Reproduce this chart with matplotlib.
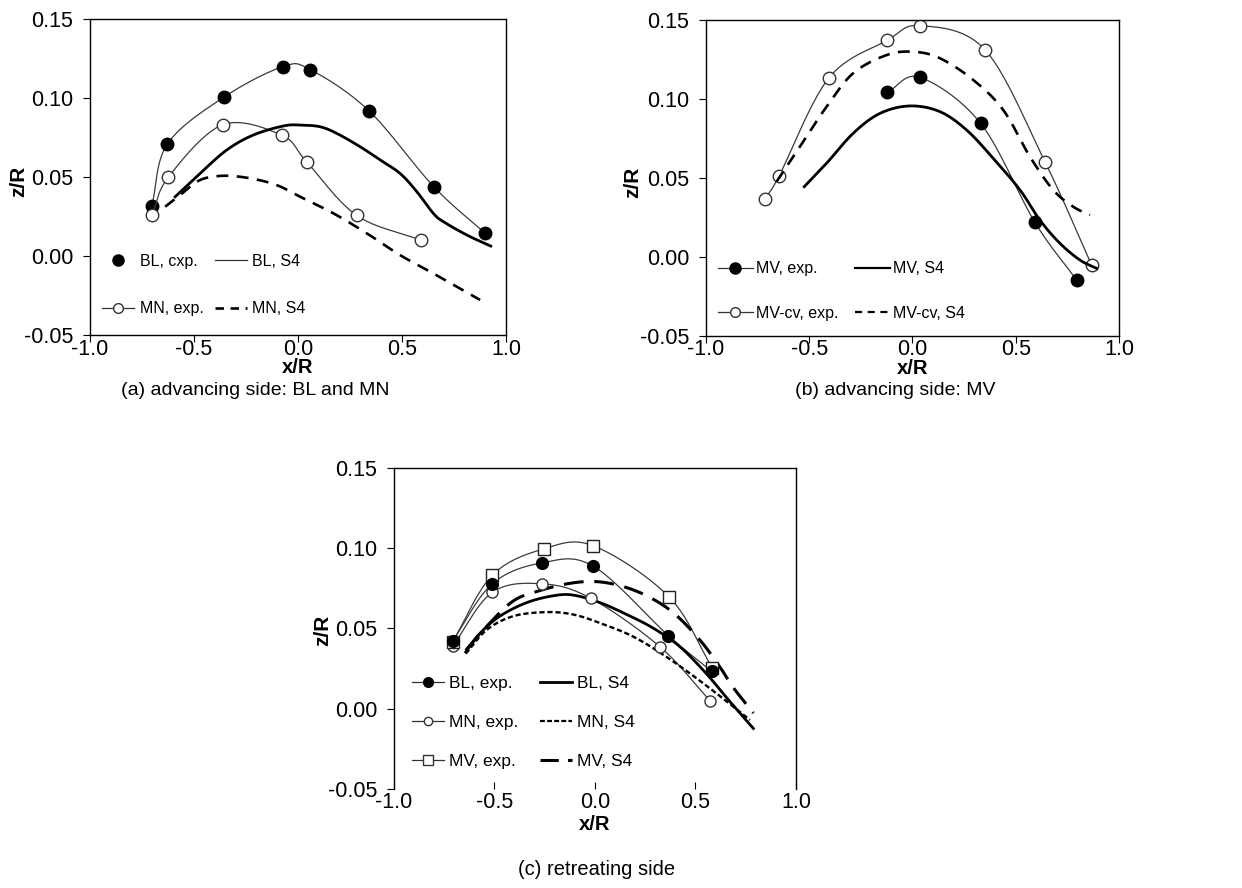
import numpy as np
import matplotlib
matplotlib.use("Agg")
import matplotlib.pyplot as plt
from matplotlib.lines import Line2D

plt.rcParams['font.family'] = ['Liberation Sans', 'DejaVu Sans']
plt.rcParams['axes.unicode_minus'] = False

# ---------------- data: panel (a) ----------------
a_bl_exp_x = [-0.703, -0.628, -0.356, -0.074, 0.058, 0.340, 0.652, 0.897]
a_bl_exp_y = [0.0318, 0.0709, 0.1006, 0.1198, 0.1180, 0.0920, 0.0439, 0.0146]
a_mn_exp_x = [-0.703, -0.623, -0.362, -0.078, 0.042, 0.282, 0.590]
a_mn_exp_y = [0.0257, 0.0500, 0.0831, 0.0764, 0.0595, 0.0257, 0.0101]
a_bl_s4_x = [-0.591, -0.471, -0.343, -0.215, -0.071, 0.010, 0.106, 0.186, 0.298,
             0.394, 0.490, 0.571, 0.650, 0.699, 0.811, 0.926]
a_bl_s4_y = [0.0375, 0.0523, 0.0671, 0.0766, 0.0823, 0.0829, 0.0818, 0.0776, 0.0692,
             0.0608, 0.0523, 0.0407, 0.0270, 0.0217, 0.0133, 0.0063]
a_mn_s4_x = [-0.639, -0.567, -0.471, -0.359, -0.231, -0.103, 0.010, 0.170, 0.330,
             0.490, 0.650, 0.875]
a_mn_s4_y = [0.0312, 0.0386, 0.0481, 0.0508, 0.0492, 0.0449, 0.0375, 0.0270, 0.0144,
             0.0006, -0.0110, -0.0278]

# ---------------- data: panel (b) ----------------
b_mv_exp_x = [-0.122, 0.036, 0.330, 0.593, 0.795]
b_mv_exp_y = [0.1042, 0.1137, 0.0846, 0.0220, -0.0146]
b_mvcv_exp_x = [-0.714, -0.645, -0.406, -0.122, 0.036, 0.351, 0.643, 0.868]
b_mvcv_exp_y = [0.0367, 0.0515, 0.1131, 0.1371, 0.1464, 0.1312, 0.0599, -0.0051]
b_mv_s4_x = [-0.524, -0.416, -0.287, -0.157, -0.012, 0.133, 0.262, 0.391, 0.521,
             0.617, 0.714, 0.811, 0.892]
b_mv_s4_y = [0.0445, 0.0593, 0.0783, 0.0909, 0.0956, 0.0920, 0.0804, 0.0625, 0.0424,
             0.0234, 0.0087, -0.0019, -0.0072]
b_mvcv_s4_x = [-0.658, -0.545, -0.416, -0.287, -0.125, 0.004, 0.133, 0.295, 0.440,
               0.569, 0.682, 0.779, 0.860]
b_mvcv_s4_y = [0.0477, 0.0698, 0.0951, 0.1163, 0.1278, 0.1299, 0.1258, 0.1120, 0.0930,
               0.0635, 0.0424, 0.0318, 0.0266]

# ---------------- data: panel (c) ----------------
c_bl_exp_x = [-0.708, -0.511, -0.262, -0.008, 0.365, 0.580]
c_bl_exp_y = [0.0424, 0.0778, 0.0909, 0.0888, 0.0456, 0.0233]
c_mn_exp_x = [-0.708, -0.511, -0.262, -0.021, 0.323, 0.572]
c_mn_exp_y = [0.0390, 0.0725, 0.0778, 0.0688, 0.0386, 0.0051]
c_mv_exp_x = [-0.708, -0.511, -0.254, -0.008, 0.368, 0.584]
c_mv_exp_y = [0.0417, 0.0831, 0.0996, 0.1015, 0.0697, 0.0254]
c_bl_s4_x = [-0.643, -0.572, -0.473, -0.340, -0.207, -0.108, 0.025, 0.158, 0.290,
             0.423, 0.556, 0.655, 0.788]
c_bl_s4_y = [0.0354, 0.0470, 0.0577, 0.0661, 0.0704, 0.0708, 0.0661, 0.0587, 0.0502,
             0.0386, 0.0216, 0.0068, -0.0123]
c_mn_s4_x = [-0.643, -0.539, -0.406, -0.240, -0.108, 0.025, 0.191, 0.357, 0.522,
             0.655, 0.771]
c_mn_s4_y = [0.0343, 0.0491, 0.0577, 0.0602, 0.0587, 0.0534, 0.0449, 0.0322, 0.0174,
             0.0046, -0.0070]
c_mv_s4_x = [-0.643, -0.539, -0.406, -0.274, -0.141, -0.008, 0.124, 0.257, 0.390,
             0.522, 0.622, 0.688, 0.788]
c_mv_s4_y = [0.0364, 0.0513, 0.0672, 0.0736, 0.0778, 0.0793, 0.0767, 0.0704, 0.0598,
             0.0428, 0.0259, 0.0132, -0.0027]

x_ticks = [-1.0, -0.5, 0.0, 0.5, 1.0]
y_ticks = [-0.05, 0.00, 0.05, 0.10, 0.15]
captions = ["(a) advancing side: BL and MN", "(b) advancing side: MV", "(c) retreating side"]


def smooth(x, y, n=24):
    """Catmull-Rom smoothing, like a spreadsheet 'smoothed line'."""
    pts = np.column_stack([x, y]).astype(float)
    if len(pts) < 3:
        return pts[:, 0], pts[:, 1]
    p = np.vstack([2 * pts[0] - pts[1], pts, 2 * pts[-1] - pts[-2]])
    t = np.linspace(0, 1, n, endpoint=False)[:, None]
    segs = []
    for i in range(1, len(p) - 2):
        p0, p1, p2, p3 = p[i - 1], p[i], p[i + 1], p[i + 2]
        seg = 0.5 * (2 * p1 + (-p0 + p2) * t + (2 * p0 - 5 * p1 + 4 * p2 - p3) * t ** 2
                     + (-p0 + 3 * p1 - 3 * p2 + p3) * t ** 3)
        segs.append(seg)
    segs.append(pts[-1:])
    s = np.vstack(segs)
    return s[:, 0], s[:, 1]


TICK_FS = 15.5
LEG_FS = 11.5
THIN = dict(color='#3a3a3a', lw=0.9)
THICK = dict(color='black', lw=2.0)


def style_axes(ax, xlab_y, ylab_x, ylab_y, no_bottom=False):
    ax.set_xlim(-1.0, 1.0)
    ax.set_ylim(-0.05, 0.15)
    ax.set_xticks(x_ticks)
    ax.set_yticks(y_ticks)
    ax.set_xticklabels(['%.1f' % v for v in x_ticks])
    ax.set_yticklabels(['%.2f' % v for v in y_ticks])
    for sp in ax.spines.values():
        sp.set_linewidth(1.0)
        sp.set_color('black')
    ax.tick_params(axis='y', direction='out', length=5, width=0.8, pad=7, labelsize=TICK_FS)
    if no_bottom:
        ax.spines['bottom'].set_visible(False)
        ax.tick_params(axis='x', direction='in', length=5, width=0.8, pad=2, labelsize=TICK_FS)
    else:
        ax.tick_params(axis='x', direction='out', length=5, width=0.8, pad=-2.5, labelsize=TICK_FS)
    ax.set_xlabel('x/R', fontsize=14.5, fontweight='bold', va='center')
    ax.set_ylabel('z/R', fontsize=15, fontweight='bold', va='center')
    ax.xaxis.set_label_coords(0.5, xlab_y)
    ax.yaxis.set_label_coords(ylab_x, ylab_y)


fig = plt.figure(figsize=(12.42, 8.88), dpi=100)

# ---------------- panel (a) ----------------
ax1 = fig.add_axes([0.0725, 0.6227, 0.3350, 0.3559])
ax1.plot(*smooth(a_bl_exp_x, a_bl_exp_y), **THIN)
ax1.plot(a_bl_exp_x, a_bl_exp_y, 'o', color='black', ms=9, ls='none')
ax1.plot(*smooth(a_mn_exp_x, a_mn_exp_y), **THIN)
ax1.plot(a_mn_exp_x, a_mn_exp_y, 'o', mfc='white', mec='#333333', mew=1.0, ms=9, ls='none')
ax1.plot(*smooth(a_bl_s4_x, a_bl_s4_y), **THICK)
ax1.plot(*smooth(a_mn_s4_x, a_mn_s4_y), color='black', lw=1.9, ls=(0, (4.5, 3.2)))
style_axes(ax1, -0.102, -0.171, 0.485)
h1 = [Line2D([], [], ls='none', marker='o', color='black', ms=8),
      Line2D([], [], color='#333333', lw=0.9, marker='o', mfc='white', mec='#333333', ms=7),
      Line2D([], [], color='#333333', lw=0.9),
      Line2D([], [], color='black', lw=1.9, ls=(0, (3.2, 2.5)))]
l1 = ['BL, cxp.', 'MN, exp.', 'BL, S4', 'MN, S4']
ax1.legend(h1, l1, ncol=2, loc='upper left', bbox_to_anchor=(0.029, 0.258), frameon=False,
           fontsize=LEG_FS, handlelength=2.0, handletextpad=0.35, columnspacing=0.7,
           labelspacing=2.06, borderpad=0, borderaxespad=0)

# ---------------- panel (b) ----------------
ax2 = fig.add_axes([0.5684, 0.6216, 0.3325, 0.3559])
ax2.plot(*smooth(b_mv_exp_x, b_mv_exp_y), **THIN)
ax2.plot(b_mv_exp_x, b_mv_exp_y, 'o', color='black', ms=9, ls='none')
ax2.plot(*smooth(b_mvcv_exp_x, b_mvcv_exp_y), **THIN)
ax2.plot(b_mvcv_exp_x, b_mvcv_exp_y, 'o', mfc='white', mec='#333333', mew=1.0, ms=9, ls='none')
ax2.plot(*smooth(b_mv_s4_x, b_mv_s4_y), **THICK)
ax2.plot(*smooth(b_mvcv_s4_x, b_mvcv_s4_y), color='black', lw=1.9, ls=(0, (4.5, 3.2)))
style_axes(ax2, -0.102, -0.177, 0.485)
h2 = [Line2D([], [], color='#333333', lw=0.9, marker='o', mfc='black', mec='black', ms=8),
      Line2D([], [], color='#333333', lw=0.9, marker='o', mfc='white', mec='#333333', ms=7),
      Line2D([], [], color='black', lw=1.6),
      Line2D([], [], color='black', lw=1.6, ls=(0, (3.2, 2.5)))]
l2 = ['MV, exp.', 'MV-cv, exp.', 'MV, S4', 'MV-cv, S4']
ax2.legend(h2, l2, ncol=2, loc='upper left', bbox_to_anchor=(0.029, 0.237), frameon=False,
           fontsize=LEG_FS, handlelength=2.2, handletextpad=0.2, columnspacing=1.0,
           labelspacing=1.85, borderpad=0, borderaxespad=0)

# ---------------- panel (c) ----------------
ax3 = fig.add_axes([0.3172, 0.1115, 0.3237, 0.3615])
ax3.plot(*smooth(c_mv_exp_x, c_mv_exp_y), **THIN)
ax3.plot(*smooth(c_bl_exp_x, c_bl_exp_y), **THIN)
ax3.plot(*smooth(c_mn_exp_x, c_mn_exp_y), **THIN)
ax3.plot(*smooth(c_bl_s4_x, c_bl_s4_y), **THICK)
ax3.plot(*smooth(c_mn_s4_x, c_mn_s4_y), color='black', lw=1.7, ls=(0, (2.2, 1.2)))
ax3.plot(*smooth(c_mv_s4_x, c_mv_s4_y), color='black', lw=2.2, ls=(0, (6.5, 3.5)))
ax3.plot(c_mn_exp_x, c_mn_exp_y, 'o', mfc='white', mec='#333333', mew=1.0, ms=8, ls='none')
ax3.plot(c_mv_exp_x, c_mv_exp_y, 's', mfc='white', mec='#222222', mew=1.0, ms=8.5, ls='none')
ax3.plot(c_bl_exp_x, c_bl_exp_y, 'o', color='black', ms=8.5, ls='none')
style_axes(ax3, -0.11, -0.177, 0.495, no_bottom=True)
h3 = [Line2D([], [], color='#333333', lw=0.9, marker='o', mfc='black', mec='black', ms=7),
      Line2D([], [], color='#333333', lw=0.9, marker='o', mfc='white', mec='#333333', ms=6),
      Line2D([], [], color='#333333', lw=0.9, marker='s', mfc='white', mec='#333333', ms=7),
      Line2D([], [], color='black', lw=2.0),
      Line2D([], [], color='black', lw=1.6, ls=(0, (2.2, 1.0))),
      Line2D([], [], color='black', lw=2.2, ls=(0, (6.0, 3.0)))]
l3 = ['BL, exp.', 'MN, exp.', 'MV, exp.', 'BL, S4', 'MN, S4', 'MV, S4']
ax3.legend(h3, l3, ncol=2, loc='upper left', bbox_to_anchor=(0.045, 0.351), frameon=False,
           fontsize=12.5, handlelength=1.85, handletextpad=0.3, columnspacing=1.23,
           labelspacing=1.37, borderpad=0, borderaxespad=0)

# ---------------- captions ----------------
fig.text(0.2053, 1 - 390 / 888, captions[0], ha='center', va='center', fontsize=14)
fig.text(0.7206, 1 - 390 / 888, captions[1], ha='center', va='center', fontsize=14)
fig.text(0.4807, 1 - 869 / 888, captions[2], ha='center', va='center', fontsize=14.5)

fig.savefig('out.png', dpi=100)
